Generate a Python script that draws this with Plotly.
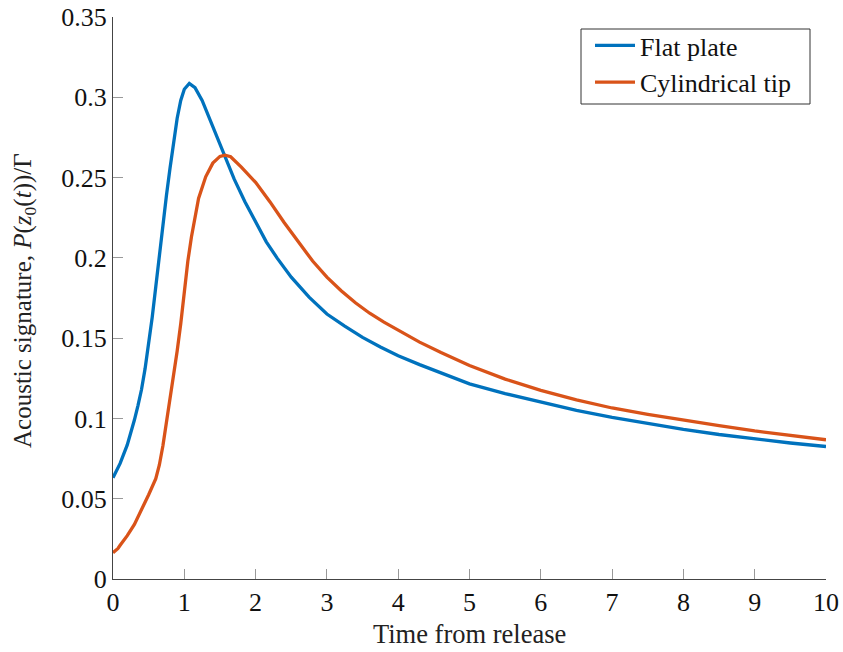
import plotly.graph_objects as go

# Flat plate signature
t_flat = [0, 0.1, 0.2, 0.25, 0.3, 0.35, 0.4, 0.45, 0.5, 0.55, 0.6, 0.65, 0.7, 0.75,
          0.8, 0.85, 0.9, 0.95, 1.0, 1.07, 1.15, 1.25, 1.36, 1.45, 1.55, 1.7, 1.85,
          2.0, 2.15, 2.3, 2.5, 2.75, 3.0, 3.25, 3.5, 3.75, 4.0, 4.3, 4.6, 5.0, 5.5,
          6.0, 6.5, 7.0, 7.5, 8.0, 8.5, 9.0, 9.5, 10.0]
p_flat = [0.063, 0.072, 0.0835, 0.091, 0.099, 0.108, 0.118, 0.131, 0.146, 0.163, 0.182,
          0.202, 0.221, 0.239, 0.256, 0.272, 0.287, 0.298, 0.305, 0.3086, 0.306, 0.298,
          0.286, 0.276, 0.265, 0.249, 0.235, 0.222, 0.210, 0.200, 0.188, 0.1755, 0.165,
          0.1575, 0.1505, 0.1445, 0.139, 0.1335, 0.1285, 0.1215, 0.1155, 0.1100, 0.1050,
          0.1007, 0.0968, 0.0932, 0.0900, 0.0871, 0.0847, 0.0825]

# Cylindrical tip signature
t_cyl = [0, 0.07, 0.1, 0.2, 0.3, 0.4, 0.5, 0.6, 0.65, 0.7, 0.75, 0.8, 0.85, 0.9, 0.95,
         1.0, 1.05, 1.1, 1.15, 1.2, 1.3, 1.4, 1.5, 1.57, 1.65, 1.8, 2.0, 2.2, 2.4, 2.6,
         2.8, 3.0, 3.2, 3.4, 3.6, 3.8, 4.0, 4.3, 4.6, 5.0, 5.5, 6.0, 6.5, 7.0, 7.5, 8.0,
         8.5, 9.0, 9.5, 10.0]
p_cyl = [0.0164, 0.019, 0.021, 0.027, 0.034, 0.043, 0.0525, 0.0625, 0.071, 0.083, 0.097,
         0.112, 0.127, 0.142, 0.159, 0.179, 0.198, 0.213, 0.226, 0.237, 0.2505, 0.259,
         0.2632, 0.2640, 0.2630, 0.2565, 0.247, 0.235, 0.222, 0.210, 0.198, 0.188, 0.1795,
         0.172, 0.1655, 0.1600, 0.155, 0.1475, 0.141, 0.133, 0.1245, 0.1175, 0.1115,
         0.1065, 0.1025, 0.0988, 0.0955, 0.0922, 0.0893, 0.0867]

x_ticks = [0, 1, 2, 3, 4, 5, 6, 7, 8, 9, 10]
y_ticks = [0, 0.05, 0.1, 0.15, 0.2, 0.25, 0.3, 0.35]
y_tick_text = ["0", "0.05", "0.1", "0.15", "0.2", "0.25", "0.3", "0.35"]

FONT = "Liberation Serif, Times New Roman, serif"

# plot area in pixels (used to place the legend frame and axis titles)
L, R, T, B = 113, 826, 17, 579
PW, PH = R - L, B - T


def px_x(p):
    return (p - L) / PW


def px_y(p):
    return (B - p) / PH


fig = go.Figure()
fig.add_trace(go.Scatter(x=t_flat, y=p_flat, mode="lines", name="Flat plate",
                         line=dict(color="#0072BD", width=3.3)))
fig.add_trace(go.Scatter(x=t_cyl, y=p_cyl, mode="lines", name="Cylindrical tip",
                         line=dict(color="#D95319", width=3.3)))

axis_common = dict(
    showgrid=False, zeroline=False, showline=True, linecolor="#444444", linewidth=1.3,
    ticks="inside", ticklen=10, tickcolor="#999999", tickwidth=1.2, automargin=False,
    tickfont=dict(family=FONT, size=26, color="#111111"),
)

fig.update_layout(
    width=843, height=652,
    margin=dict(l=L, r=843 - R, t=T, b=652 - B),
    paper_bgcolor="white", plot_bgcolor="white",
    font=dict(family=FONT, color="#222222"),
    showlegend=True,
    legend=dict(
        x=px_x(590), y=px_y(22), xanchor="left", yanchor="top",
        borderwidth=0, bgcolor="rgba(0,0,0,0)",
        font=dict(family=FONT, size=26, color="#111111"),
        tracegroupgap=0, itemwidth=40,
    ),
    xaxis=dict(range=[0, 10], tickvals=x_ticks, **axis_common),
    yaxis=dict(range=[0, 0.35], tickvals=y_ticks, ticktext=y_tick_text, **axis_common),
    shapes=[
        dict(type="rect", xref="paper", yref="paper",
             x0=px_x(581), x1=px_x(810), y0=px_y(104), y1=px_y(29),
             line=dict(color="#333333", width=1), fillcolor="white", layer="below"),
    ],
    annotations=[
        dict(text="Time from release", xref="paper", yref="paper",
             x=0.5, y=px_y(634), xanchor="center", yanchor="middle", showarrow=False,
             font=dict(family=FONT, size=26.5, color="#222222")),
        dict(text="Acoustic signature, <i>P</i>(<i>z</i><sub>0</sub>(<i>t</i>))/Γ",
             xref="paper", yref="paper", x=px_x(25), y=px_y(301), textangle=-90,
             xanchor="center", yanchor="middle", showarrow=False,
             font=dict(family=FONT, size=25, color="#222222")),
    ],
)

fig.write_html("out.html")
